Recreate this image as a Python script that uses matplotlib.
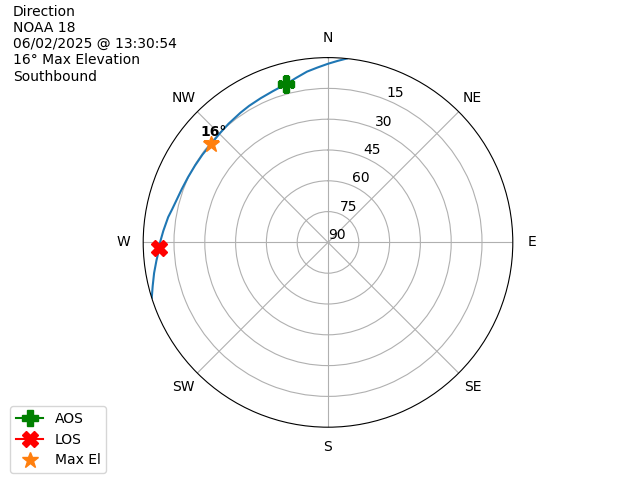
import matplotlib
matplotlib.use("Agg")
import matplotlib.pyplot as plt
import numpy as np

# pass track (azimuth deg, elevation deg)
az = [5.8, 3, 0, 356.5, 353, 349, 345, 340, 335, 330, 326, 320, 315, 310,
      305, 300, 295, 290, 286, 282, 279, 274, 270, 268, 264, 260, 256, 252.5]
el = [0, 1.5, 3.0, 4.7, 6.2, 8.4, 10.3, 11.6, 12.5, 13.2, 13.8, 14.6, 15.2, 15.6,
      15.4, 15.2, 14.8, 14.2, 13.5, 12.4, 11.2, 9.6, 8.2, 7.8, 6.0, 4.0, 2.0, 0]

aos_az, aos_el = 345, 10.3
los_az, los_el = 268, 7.8
max_az, max_el = 310, 15.6

info = "Direction\nNOAA 18\n06/02/2025 @ 13:30:54\n16° Max Elevation\nSouthbound"
compass = ["N", "NE", "E", "SE", "S", "SW", "W", "NW"]
ring_el = [90, 75, 60, 45, 30, 15]

fig = plt.figure(figsize=(6.4, 4.8), dpi=100)
ax = fig.add_subplot(111, projection="polar")
ax.set_theta_zero_location("N")
ax.set_theta_direction(-1)

r = 90 - np.array(el)
ax.plot(np.radians(az), r)
ax.plot(np.radians(aos_az), 90 - aos_el, marker="P", color="green", markersize=12, label="AOS")
ax.plot(np.radians(los_az), 90 - los_el, marker="X", color="red", markersize=12, label="LOS")
ax.plot(np.radians(max_az), 90 - max_el, "*", color="C1", markersize=12, label="Max El")
ax.annotate("16°", (np.radians(max_az), 90 - max_el), xytext=(2, 3.5),
            textcoords="offset points", ha="center", va="bottom", fontweight="bold")

ax.set_ylim(0, 90)
ax.set_yticks([90 - e for e in ring_el])
ax.set_yticklabels([str(e) for e in ring_el])
ax.set_xticks(np.radians(np.arange(0, 360, 45)))
ax.set_xticklabels(compass)

fig.text(0.02, 0.99, info, ha="left", va="top")
fig.legend(loc="lower left", bbox_to_anchor=(0.005, 0))
fig.savefig("out.png")
